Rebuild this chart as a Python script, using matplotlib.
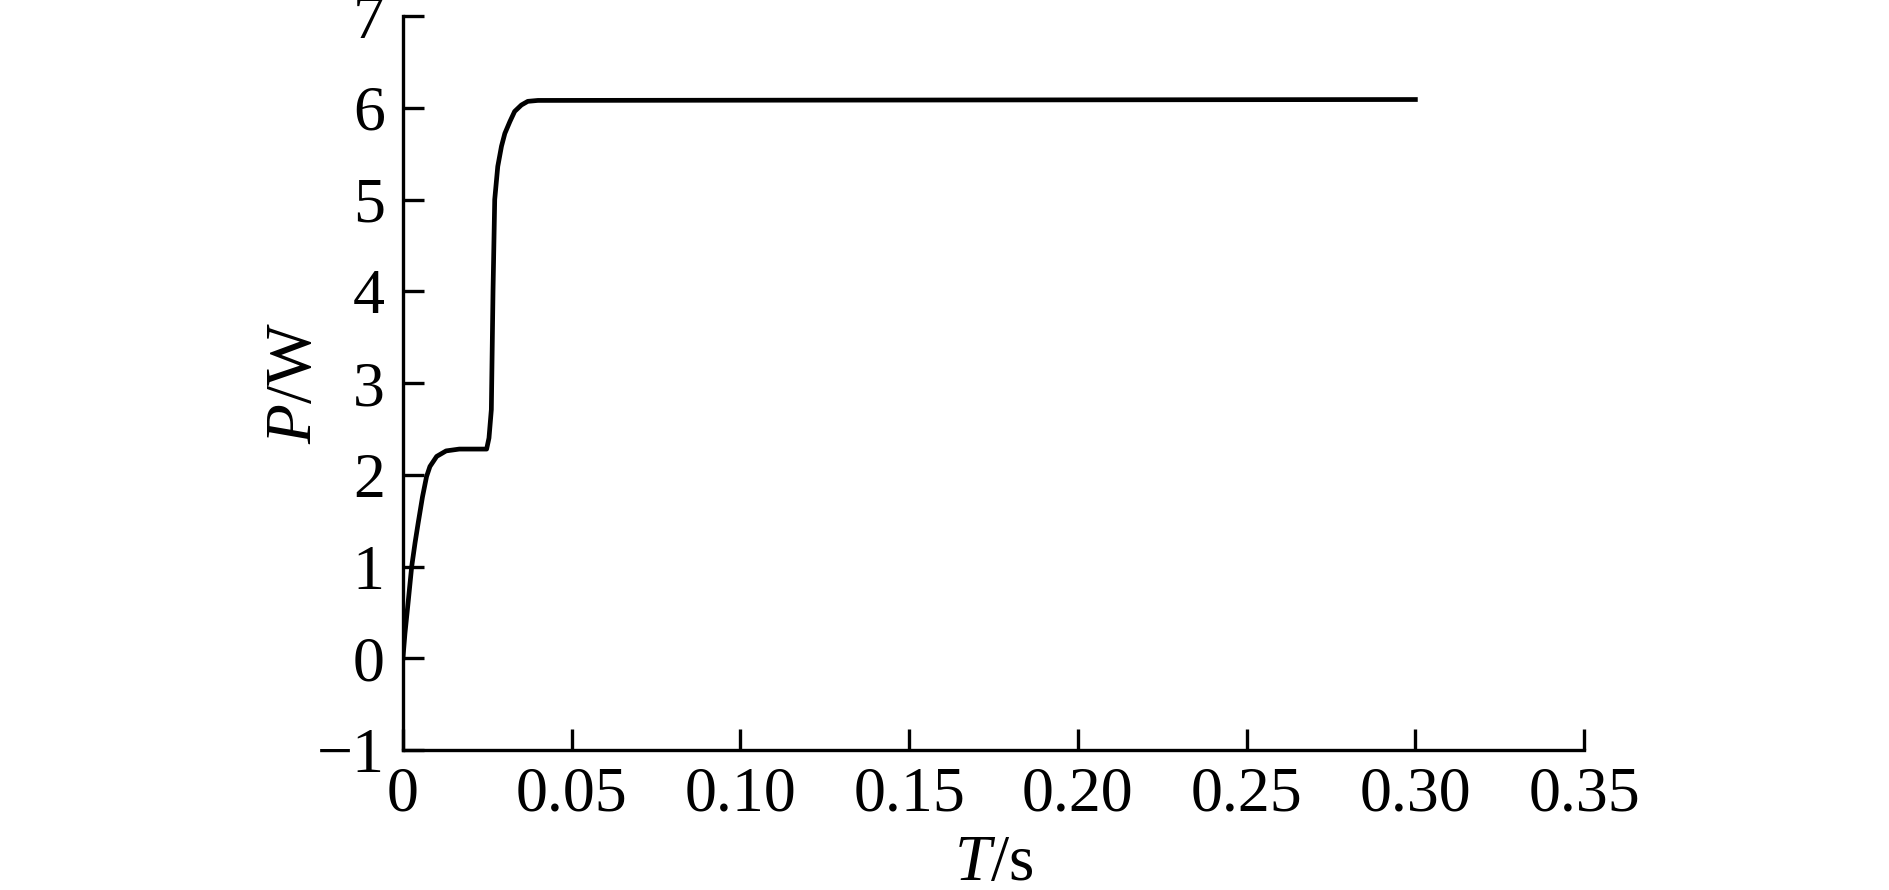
#! /usr/bin/env python3

import matplotlib
matplotlib.use("Agg")
import matplotlib.pyplot as plt

# power response
t_s = [0, 0.0006, 0.0016, 0.0026, 0.0036, 0.0045, 0.0058, 0.0070, 0.008,
       0.010, 0.0128, 0.0167, 0.020, 0.0248, 0.0255, 0.0262, 0.0267, 0.0272,
       0.0281, 0.0292, 0.0302, 0.0317, 0.0331, 0.0351, 0.037, 0.040, 0.30]
p_w = [0, 0.27, 0.63, 1.0, 1.26, 1.47, 1.76, 1.98, 2.09,
       2.20, 2.26, 2.28, 2.28, 2.28, 2.40, 2.71, 4.01, 5.0,
       5.36, 5.58, 5.72, 5.85, 5.96, 6.03, 6.07, 6.08, 6.09]

xticks = [0, 0.05, 0.10, 0.15, 0.20, 0.25, 0.30, 0.35]
xticklabels = ["0", "0.05", "0.10", "0.15", "0.20", "0.25", "0.30", "0.35"]
yticks = [-1, 0, 1, 2, 3, 4, 5, 6, 7]

plt.rcParams["font.family"] = ["Liberation Serif", "DejaVu Serif"]
plt.rcParams["mathtext.fontset"] = "custom"
plt.rcParams["mathtext.rm"] = "Liberation Serif"
plt.rcParams["mathtext.it"] = "Liberation Serif:italic"

fig = plt.figure(figsize=(18.89, 8.90), dpi=100)
ax = fig.add_axes([0.2133, 0.1573, 0.8386 - 0.2133, 0.982 - 0.1573])

ax.plot(t_s, p_w, color="black", linewidth=3.4, solid_joinstyle="round")

ax.set_xlim(0, 0.35)
ax.set_ylim(-1, 7)
ax.set_xticks(xticks)
ax.set_xticklabels(xticklabels)
ax.set_yticks(yticks)

for side in ("top", "right"):
    ax.spines[side].set_visible(False)
for side in ("left", "bottom"):
    ax.spines[side].set_linewidth(2.4)

ax.tick_params(direction="in", length=15, width=2.4, labelsize=46)
ax.tick_params(axis="y", pad=13)
ax.tick_params(axis="x", pad=12)

ax.set_xlabel(r"$T$/s", fontsize=47, labelpad=7)
ax.set_ylabel(r"$P$/W", fontsize=47, labelpad=-6)

fig.savefig("out.png", dpi=100)
